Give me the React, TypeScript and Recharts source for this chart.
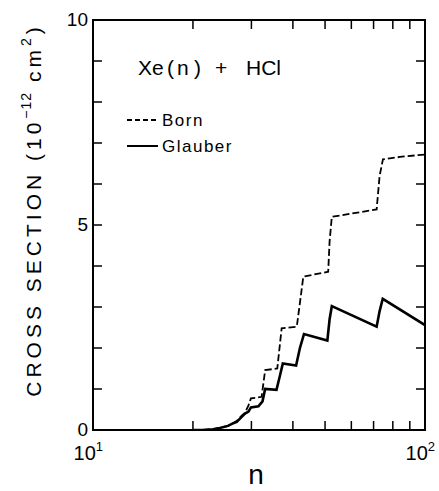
import { ComposedChart, Line, XAxis, YAxis, ReferenceArea } from "recharts";

const FONT = '"Liberation Sans Narrow", "Liberation Sans", Arial, sans-serif';

// log-scale ticks on n, minor every 10
const xTicks = [10, 20, 30, 40, 50, 60, 70, 80, 90, 100];
const xExponents: Record<number, string> = { 10: "1", 100: "2" };
const yTicks = [0, 1, 2, 3, 4, 5, 6, 7, 8, 9, 10];
const yLabeled = [0, 5, 10];

// Born approximation (dashed)
const bornN = [
  20, 21.4, 23, 24.1, 25.5, 26.2, 27.1, 28.05, 28.7, 29.4, 29.9, 32.2, 33.0, 35.9, 37.0, 41.1, 42.0, 43.0,
  51.1, 51.6, 52.4, 71.5, 73.0, 74.7, 84, 100,
];
const bornSigma = [
  0, 0, 0.02, 0.05, 0.1, 0.15, 0.22, 0.35, 0.42, 0.6, 0.77, 0.81, 1.46, 1.5, 2.48, 2.52, 3.1, 3.74, 3.86,
  4.6, 5.2, 5.38, 6.2, 6.6, 6.66, 6.72,
];

// Glauber approximation (solid)
const glauberN = [
  20, 21.4, 23, 24.1, 25.5, 26.2, 27.1, 28.05, 28.7, 29.4, 29.9, 31.5, 32.4, 33.0, 35.7, 36.5, 37.3, 40.9,
  42.0, 43.2, 50.8, 51.6, 52.4, 71.5, 73.0, 74.6, 100,
];
const glauberSigma = [
  0, 0, 0.02, 0.05, 0.1, 0.15, 0.2, 0.32, 0.4, 0.45, 0.55, 0.58, 0.7, 1.0, 0.98, 1.3, 1.62, 1.57, 2.0,
  2.34, 2.18, 2.7, 3.02, 2.52, 2.9, 3.2, 2.56,
];

const bornData = bornN.map((n, i) => ({ n, sigma: bornSigma[i] }));
const glauberData = glauberN.map((n, i) => ({ n, sigma: glauberSigma[i] }));

const TICK_LEN = 9;

// inward tick marks drawn as paths at the positions the axes hand us
function BottomTick(props: any) {
  const { x, y, payload } = props;
  const exp = xExponents[payload.value];
  return (
    <g>
      <path d={`M${x},${y}L${x},${y - TICK_LEN}`} stroke="#000" strokeWidth={1.5} fill="none" />
      {exp && (
        <text x={x + 10} y={y + 30} textAnchor="end" fontSize={20} fontFamily={FONT} fill="#000" stroke="none">
          10
          <tspan dy={-9} fontSize={13}>
            {exp}
          </tspan>
        </text>
      )}
    </g>
  );
}

function TopTick(props: any) {
  const { x, y } = props;
  return <path d={`M${x},${y}L${x},${y + TICK_LEN}`} stroke="#000" strokeWidth={1.5} fill="none" />;
}

function LeftTick(props: any) {
  const { x, y, payload } = props;
  const show = yLabeled.includes(payload.value);
  return (
    <g>
      <path d={`M${x},${y}L${x + TICK_LEN},${y}`} stroke="#000" strokeWidth={1.5} fill="none" />
      {show && (
        <text
          x={x - 5}
          y={y - 1}
          textAnchor="end"
          dominantBaseline="central"
          fontSize={19}
          fontFamily={FONT}
          fill="#000"
          stroke="none"
        >
          {payload.value}
        </text>
      )}
    </g>
  );
}

function RightTick(props: any) {
  const { x, y } = props;
  return <path d={`M${x},${y}L${x - TICK_LEN},${y}`} stroke="#000" strokeWidth={1.5} fill="none" />;
}

const abs = (left: number, top: number, fontSize: number): React.CSSProperties => ({
  position: "absolute",
  left,
  top,
  fontSize,
  lineHeight: 1,
  whiteSpace: "nowrap",
  fontFamily: FONT,
  color: "#000",
});

export default function App() {
  return (
    <div style={{ position: "fixed", left: 0, top: 0, width: 439, height: 491, background: "#fff" }}>
      <ComposedChart width={439} height={491} margin={{ top: 10, right: 4, bottom: 0, left: 0 }}>
        <XAxis
          dataKey="n"
          type="number"
          scale="log"
          domain={[10, 100]}
          allowDataOverflow
          ticks={xTicks}
          interval={0}
          height={61}
          tickSize={0}
          tickMargin={0}
          tickLine={false}
          axisLine={false}
          tick={(p: any) => <BottomTick {...p} />}
        />
        <XAxis
          xAxisId="top"
          orientation="top"
          dataKey="n"
          type="number"
          scale="log"
          domain={[10, 100]}
          allowDataOverflow
          ticks={xTicks}
          interval={0}
          height={10}
          tickSize={0}
          tickMargin={0}
          tickLine={false}
          axisLine={false}
          tick={(p: any) => <TopTick {...p} />}
        />
        <YAxis
          type="number"
          domain={[0, 10]}
          allowDataOverflow
          ticks={yTicks}
          interval={0}
          width={93}
          tickSize={0}
          tickMargin={0}
          tickLine={false}
          axisLine={false}
          tick={(p: any) => <LeftTick {...p} />}
        />
        <YAxis
          yAxisId="right"
          orientation="right"
          type="number"
          domain={[0, 10]}
          allowDataOverflow
          ticks={yTicks}
          interval={0}
          width={10}
          tickSize={0}
          tickMargin={0}
          tickLine={false}
          axisLine={false}
          tick={(p: any) => <RightTick {...p} />}
        />
        {/* plot frame */}
        <ReferenceArea
          x1={10}
          x2={100}
          y1={0}
          y2={10}
          ifOverflow="visible"
          fill="none"
          fillOpacity={0}
          stroke="#000"
          strokeWidth={2}
          strokeOpacity={1}
        />
        <Line
          data={bornData}
          dataKey="sigma"
          type="linear"
          stroke="#000"
          strokeWidth={1.8}
          strokeDasharray="7 3"
          dot={false}
          activeDot={false}
          isAnimationActive={false}
        />
        <Line
          data={glauberData}
          dataKey="sigma"
          type="linear"
          stroke="#000"
          strokeWidth={2.6}
          dot={false}
          activeDot={false}
          isAnimationActive={false}
        />
      </ComposedChart>

      {/* title */}
      <div style={abs(138, 57, 21)}>Xe</div>
      <div style={abs(167, 57, 21)}>(</div>
      <div style={abs(177, 57, 21)}>n</div>
      <div style={abs(194, 57, 21)}>)</div>
      <div style={abs(215, 57, 21)}>+</div>
      <div style={abs(246, 57, 21)}>HCl</div>

      {/* legend */}
      <div
        style={{
          position: "absolute",
          left: 127,
          top: 119,
          width: 31,
          height: 1.7,
          background: "repeating-linear-gradient(to right, #000 0 5px, transparent 5px 8px)",
        }}
      />
      <div style={{ ...abs(162, 112, 17), letterSpacing: 1.5 }}>Born</div>
      <div style={{ position: "absolute", left: 127, top: 144.7, width: 31, height: 2.6, background: "#000" }} />
      <div style={{ ...abs(162, 138, 17), letterSpacing: 1.5 }}>Glauber</div>

      {/* y-axis title */}
      <div
        style={{
          ...abs(33, 210, 21),
          letterSpacing: 4,
          transform: "translate(-50%, -50%) rotate(-90deg)",
        }}
      >
        CROSS SECTION (10
        <span style={{ position: "relative", top: -10, fontSize: 14, letterSpacing: 1 }}>−12</span> cm
        <span style={{ position: "relative", top: -10, fontSize: 14 }}>2</span>)
      </div>

      {/* x-axis title */}
      <div style={{ ...abs(256, 461, 28), transform: "translateX(-50%)" }}>n</div>
    </div>
  );
}
